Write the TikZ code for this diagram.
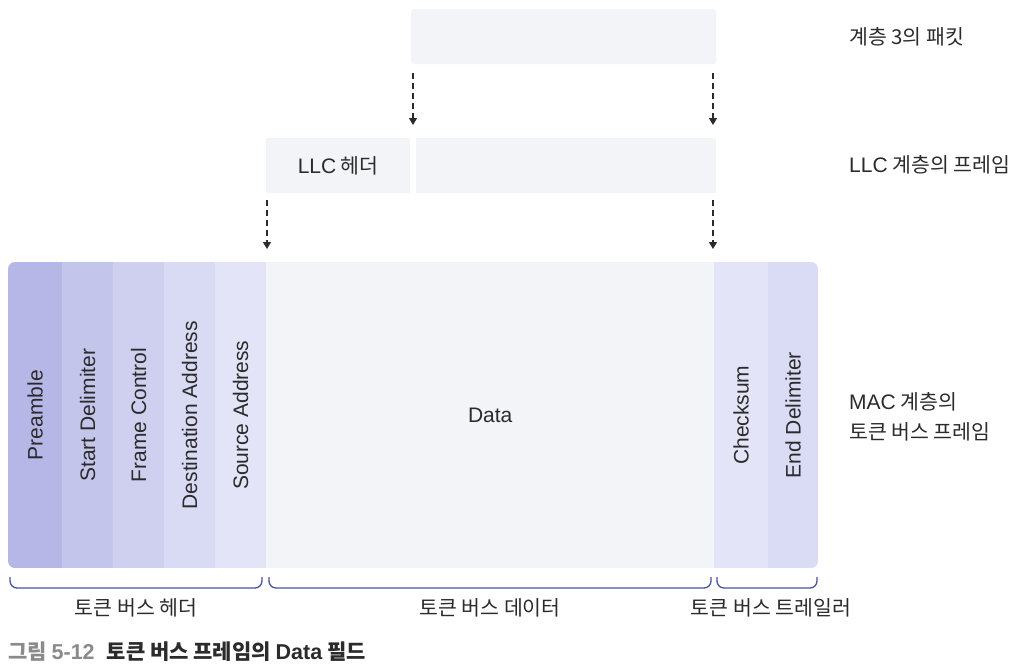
\documentclass[tikz,border=0pt]{standalone}
\usepackage{fontspec}
\setmainfont{Liberation Sans}
\newfontfamily\kr{Noto Sans CJK KR}
\newfontfamily\lat{Liberation Sans}
\usetikzlibrary{arrows.meta}
\definecolor{txt}{HTML}{2B2B2B}
\definecolor{pale}{HTML}{F3F4F8}
\definecolor{cA}{HTML}{B6B7E6}
\definecolor{cB}{HTML}{C4C5EB}
\definecolor{cC}{HTML}{CFD0F0}
\definecolor{cD}{HTML}{D9DAF4}
\definecolor{cE}{HTML}{E3E4F7}
\definecolor{cF}{HTML}{DADBF4}
\definecolor{brc}{HTML}{4A539E}
\definecolor{capg}{HTML}{8A8A8A}
\tikzset{
  x=1pt,y=-1pt,
  field/.style={draw=none,inner sep=0pt,anchor=north west,text=txt},
  vlabel/.style={rotate=90,text=txt,font=\lat\fontsize{21}{24}\selectfont,inner sep=0pt},
  sidelabel/.style={anchor=west,text=txt,align=left,inner sep=0pt,font=\kr\fontsize{20.5}{30}\selectfont},
  under/.style={text=txt,inner sep=0pt,font=\kr\fontsize{20.5}{24}\selectfont},
  darr/.style={draw=txt,line width=1.2pt,dash pattern=on 6pt off 4pt,-{Triangle[length=7pt,width=8pt]}},
  brace/.style={draw=brc,line width=1.3pt},
}
\begin{document}
\begin{tikzpicture}
\useasboundingbox[fill=white] (0,0) rectangle (1017,670);
% top row
\node[field,fill=pale,rounded corners=3pt,minimum width=305pt,minimum height=55pt] (pkt) at (411,9) {};
% middle row
\node[field,fill=pale,minimum width=144pt,minimum height=55pt] (llch) at (266,138) {};
\node[text=txt,inner sep=0pt,font=\kr\fontsize{20.5}{24}\selectfont] (llct) at (llch.center) {{\lat\fontsize{21}{24}\selectfont LLC} 헤더};
\node[field,fill=pale,minimum width=300pt,minimum height=55pt] (llcd) at (416,138) {};
% MAC frame
\begin{scope}
\clip[rounded corners=7pt] (8,262) rectangle (818,568);
\node[field,fill=cA,minimum width=54pt,minimum height=306pt] (f1) at (8,262) {};
\node[field,fill=cB,minimum width=51pt,minimum height=306pt] (f2) at (62,262) {};
\node[field,fill=cC,minimum width=51pt,minimum height=306pt] (f3) at (113,262) {};
\node[field,fill=cD,minimum width=51pt,minimum height=306pt] (f4) at (164,262) {};
\node[field,fill=cE,minimum width=51pt,minimum height=306pt] (f5) at (215,262) {};
\node[field,fill=pale,minimum width=448pt,minimum height=306pt] (f6) at (266,262) {};
\node[field,fill=cE,minimum width=54pt,minimum height=306pt] (f7) at (714,262) {};
\node[field,fill=cF,minimum width=50pt,minimum height=306pt] (f8) at (768,262) {};
\end{scope}
\node[vlabel] at (f1.center) {Preamble};
\node[vlabel] at (f2.center) {Start Delimiter};
\node[vlabel] at (f3.center) {Frame Control};
\node[vlabel] at (f4.center) {Destination Address};
\node[vlabel] at (f5.center) {Source Address};
\node[text=txt,font=\lat\fontsize{21}{24}\selectfont,inner sep=0pt] at (f6.center) {Data};
\node[vlabel] at (f7.center) {Checksum};
\node[vlabel] at (f8.center) {End Delimiter};
% arrows
\coordinate (a1s) at (413,73); \coordinate (a1e) at (413,125);
\coordinate (a2s) at (713,73); \coordinate (a2e) at (713,125);
\coordinate (a3s) at (267,200); \coordinate (a3e) at (267,249);
\coordinate (a4s) at (713,200); \coordinate (a4e) at (713,249);
\draw[darr] (a1s) -- (a1e);
\draw[darr] (a2s) -- (a2e);
\draw[darr] (a3s) -- (a3e);
\draw[darr] (a4s) -- (a4e);
% braces
\draw[brace,rounded corners=7pt] (10,577) -- (10,588) -- (262,588) -- (262,577);
\draw[brace,rounded corners=7pt] (269,577) -- (269,588) -- (711,588) -- (711,577);
\draw[brace,rounded corners=7pt] (717,577) -- (717,588) -- (817,588) -- (817,577);
\node[under] (b1) at (136,608) {토큰 버스 헤더};
\node[under] (b2) at (490,608) {토큰 버스 데이터};
\node[under] (b3) at (771,608) {토큰 버스 트레일러};
% side labels
\node[sidelabel] (s1) at (849,37) {계층 3의 패킷};
\node[sidelabel] (s2) at (849,165) {{\lat\fontsize{21}{24}\selectfont LLC} 계층의 프레임};
\node[sidelabel] (s3) at (849,417) {{\lat\fontsize{21}{24}\selectfont MAC} 계층의\\토큰 버스 프레임};
% caption
\node[anchor=west,inner sep=0pt,font=\kr\bfseries\fontsize{21}{24}\selectfont] (cap) at (8,652)
  {\textcolor{capg}{그림 {\lat\bfseries\fontsize{21.5}{24}\selectfont 5-12}}\hspace{12pt}\textcolor{txt}{토큰 버스 프레임의 {\lat\fontsize{21.5}{24}\selectfont Data} 필드}};
\end{tikzpicture}
\end{document}
